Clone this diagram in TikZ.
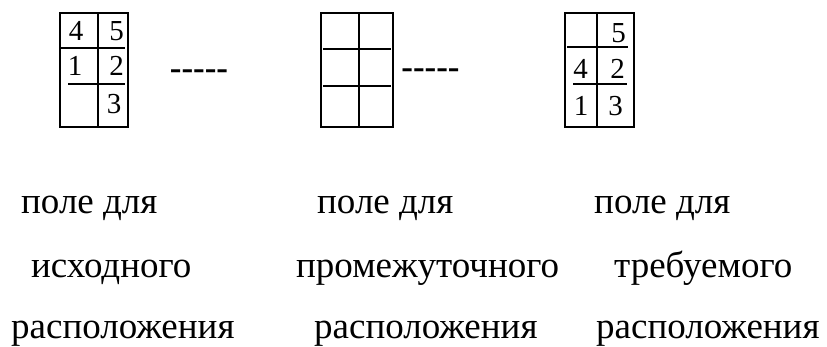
\documentclass[tikz,border=0pt]{standalone}
\usepackage{fontspec}
\setmainfont{Liberation Serif}
\newfontfamily\ruserif{Liberation Serif}
\begin{document}
\begin{tikzpicture}[x=1pt, y=-1pt,
  frame/.style={line width=1.8pt},
  rule/.style={line width=1.6pt},
  digit/.style={font=\ruserif\fontsize{29}{29}\selectfont, inner sep=0pt},
  dashes/.style={font=\ruserif\bfseries\fontsize{35}{35}\selectfont, inner sep=0pt},
  caption/.style={font=\ruserif\fontsize{37}{37}\selectfont, inner sep=0pt, anchor=base west}
]
  \useasboundingbox (0,0) rectangle (827,346);

  % source field
  \draw[frame] (60,13) rectangle (128,127);
  \draw[rule] (98,13) -- (98,127);
  \draw[rule] (61,48) -- (125,48);
  \draw[rule] (68,84) -- (125,84);
  \node[digit] (s4) at (76,31) {4};
  \node[digit] (s5) at (116.5,31) {5};
  \node[digit] (s1) at (75,66) {1};
  \node[digit] (s2) at (116.5,66) {2};
  \node[digit] (s3) at (114,104) {3};

  \node[dashes] (dashA) at (199,75) {-{}-{}-{}-{}-};

  % intermediate field
  \draw[frame] (321,13) rectangle (393,127);
  \draw[rule] (359,13) -- (359,127);
  \draw[rule] (323,49) -- (391,49);
  \draw[rule] (323,86) -- (391,86);

  \node[dashes] (dashB) at (430.5,74) {-{}-{}-{}-{}-};

  % target field
  \draw[frame] (565,13) rectangle (634,127);
  \draw[rule] (597,13) -- (597,127);
  \draw[rule] (567,47) -- (628,47);
  \draw[rule] (573,84) -- (627,84);
  \node[digit] (t5) at (618.5,33) {5};
  \node[digit] (t4) at (580.5,69) {4};
  \node[digit] (t2) at (617.5,69) {2};
  \node[digit] (t1) at (581,106) {1};
  \node[digit] (t3) at (615.5,106) {3};

  % captions
  \node[caption] (srcA) at (21,213) {поле для};
  \node[caption] (srcB) at (31,277) {исходного};
  \node[caption] (srcC) at (11,338) {расположения};
  \node[caption] (midA) at (317,213) {поле для};
  \node[caption] (midB) at (296,277) {промежуточного};
  \node[caption] (midC) at (314,338) {расположения};
  \node[caption] (trgA) at (594,213) {поле для};
  \node[caption] (trgB) at (614,277) {требуемого};
  \node[caption] (trgC) at (596,338) {расположения};
\end{tikzpicture}
\end{document}
